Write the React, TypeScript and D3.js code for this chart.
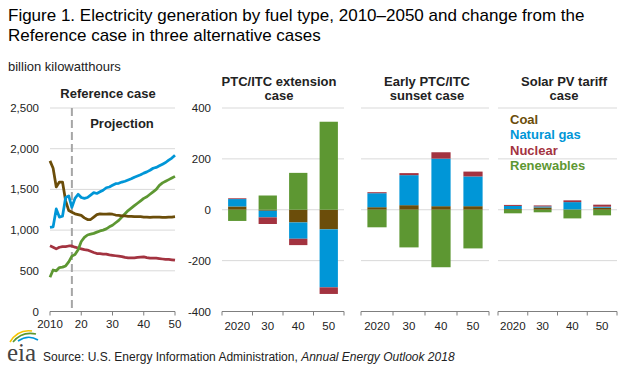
import React from "react";
import * as d3 from "d3";

const years = d3.range(2010, 2051);
const coalRef = [1850, 1760, 1530, 1590, 1590, 1360, 1240, 1220, 1200, 1190, 1180, 1150, 1130, 1130, 1160, 1190, 1200, 1195, 1195, 1200, 1195, 1185, 1180, 1175, 1175, 1170, 1170, 1165, 1165, 1165, 1160, 1160, 1155, 1160, 1160, 1160, 1155, 1155, 1160, 1160, 1165];
const gasRef = [1034, 1040, 1260, 1160, 1170, 1400, 1420, 1280, 1390, 1440, 1400, 1390, 1400, 1430, 1460, 1450, 1470, 1490, 1520, 1530, 1550, 1570, 1575, 1590, 1600, 1615, 1630, 1650, 1665, 1680, 1700, 1715, 1735, 1760, 1770, 1790, 1810, 1830, 1860, 1885, 1920];
const nuclearRef = [807, 790, 769, 789, 797, 797, 805, 805, 790, 780, 770, 760, 755, 740, 725, 712, 710, 705, 705, 695, 690, 685, 680, 675, 665, 660, 660, 660, 665, 668, 670, 662, 655, 655, 655, 650, 645, 640, 640, 635, 630];
const renewRef = [420, 510, 500, 540, 545, 560, 610, 680, 700, 760, 860, 910, 940, 950, 960, 975, 990, 1000, 1015, 1040, 1060, 1090, 1120, 1160, 1200, 1240, 1270, 1300, 1330, 1360, 1390, 1410, 1440, 1470, 1500, 1550, 1580, 1600, 1620, 1640, 1660];

const barYears = ["2020", "30", "40", "50"];
const extCoal = [13, -4, -50, -77];
const extGas = [29, -26, -64, -228];
const extNuclear = [3, -26, -25, -26];
const extRenew = [-44, 56, 145, 346];
const sunCoal = [10, 18, 14, 14];
const sunGas = [55, 118, 187, 117];
const sunNuclear = [4, 8, 25, 19];
const sunRenew = [-69, -148, -226, -152];
const solCoal = [3, 9, 1, 8];
const solGas = [12, 4, 29, 4];
const solNuclear = [4, 4, 7, 8];
const solRenew = [-14, -10, -34, -22];

const refTicks = [0, 500, 1000, 1500, 2000, 2500];
const refXTicks = [2010, 2020, 2030, 2040, 2050];
const refXLabels = ["2010", "20", "30", "40", "50"];
const barTicks = [-400, -200, 0, 200, 400];

const keys = ["coal", "gas", "nuclear", "renew"];
const labels = ["Coal", "Natural gas", "Nuclear", "Renewables"];
const colors: Record<string, string> = {
  coal: "#6b4d0a",
  gas: "#0096d7",
  nuclear: "#a33340",
  renew: "#5d9732",
};

const FONT = "'Liberation Sans', Arial, Helvetica, sans-serif";
const TXT = "#222";
const GRID = "#d9d9d9";
const AXIS = "#7f7f7f";

const TOP = 108;
const BOTTOM = 311.5;

function BarPanel({ x0, x1, coal, gas, nuclear, renew, title, titleX, showY }: any) {
  const xs = d3.scaleBand<string>().domain(barYears).range([x0, x1]).paddingInner(0.4).paddingOuter(0.2);
  const ys = d3.scaleLinear().domain([-400, 400]).range([BOTTOM, TOP]);
  const rows = barYears.map((_, i) => ({ coal: coal[i], gas: gas[i], nuclear: nuclear[i], renew: renew[i] }));
  const series = d3.stack<any>().keys(keys).offset(d3.stackOffsetDiverging)(rows);
  const step = (x1 - x0) / barYears.length;
  return (
    <g>
      {title.map((t: string, i: number) => (
        <text key={i} x={titleX} y={86 + i * 14} textAnchor="middle" fontWeight="bold" fontSize={13} fill={TXT}>{t}</text>
      ))}
      {barTicks.filter((t) => t !== -400).map((t) => (
        <line key={t} x1={x0} x2={x1} y1={ys(t)} y2={ys(t)} stroke={GRID} strokeWidth={1} />
      ))}
      {showY && barTicks.map((t) => (
        <text key={t} x={x0 - 11} y={ys(t) + 4} textAnchor="end" fontSize={11.5} fill={TXT}>{t}</text>
      ))}
      {series.map((s: any) => (
        <g key={s.key} fill={colors[s.key]}>
          {s.map((d: any, i: number) => (
            <rect key={i} x={xs(barYears[i])} width={xs.bandwidth()} y={ys(Math.max(d[0], d[1]))} height={Math.abs(ys(d[0]) - ys(d[1]))} />
          ))}
        </g>
      ))}
      <line x1={x0} x2={x1} y1={BOTTOM} y2={BOTTOM} stroke={AXIS} strokeWidth={1} />
      {d3.range(barYears.length + 1).map((i) => (
        <line key={i} x1={x0 + i * step} x2={x0 + i * step} y1={BOTTOM} y2={BOTTOM + 4} stroke={AXIS} strokeWidth={1} />
      ))}
      {barYears.map((b) => (
        <text key={b} x={(xs(b) as number) + xs.bandwidth() / 2} y={330} textAnchor="middle" fontSize={11.5} fill={TXT}>{b}</text>
      ))}
    </g>
  );
}

export default function App() {
  const x = d3.scaleLinear().domain([2010, 2050]).range([50, 175]);
  const y = d3.scaleLinear().domain([0, 2500]).range([BOTTOM, TOP]);
  const line = d3.line<number>().x((_, i) => x(years[i])).y((d) => y(d));
  const refSeries = [
    { key: "nuclear", v: nuclearRef },
    { key: "renew", v: renewRef },
    { key: "coal", v: coalRef },
    { key: "gas", v: gasRef },
  ];
  return (
    <svg width={630} height={378} style={{ position: "absolute", left: 0, top: 0, background: "#fff" }} fontFamily={FONT}>
      <rect width={630} height={378} fill="#fff" />
      <text x={8} y={21} fontSize={17} fill="#000">Figure 1. Electricity generation by fuel type, 2010–2050 and change from the</text>
      <text x={8} y={41} fontSize={17} fill="#000">Reference case in three alternative cases</text>
      <text x={8} y={71} fontSize={13} fill={TXT}>billion kilowatthours</text>

      {/* Reference panel */}
      <text x={108} y={98} textAnchor="middle" fontWeight="bold" fontSize={13} fill={TXT}>Reference case</text>
      {refTicks.filter((t) => t > 0).map((t) => (
        <line key={t} x1={50} x2={175} y1={y(t)} y2={y(t)} stroke={GRID} strokeWidth={1} />
      ))}
      {refTicks.map((t) => (
        <text key={t} x={39} y={y(t) + 4} textAnchor="end" fontSize={11.5} fill={TXT}>{d3.format(",")(t)}</text>
      ))}
      <line x1={x(2017)} x2={x(2017)} y1={TOP} y2={BOTTOM} stroke="#a6a6a6" strokeWidth={2} strokeDasharray="8,4" />
      <text x={122} y={128} textAnchor="middle" fontWeight="bold" fontSize={13} fill={TXT}>Projection</text>
      {refSeries.map((s) => (
        <path key={s.key} d={line(s.v) || ""} fill="none" stroke={colors[s.key]} strokeWidth={2.75} strokeLinejoin="round" />
      ))}
      <line x1={50} x2={175} y1={BOTTOM} y2={BOTTOM} stroke={AXIS} strokeWidth={1} />
      {refXTicks.map((t) => (
        <line key={t} x1={x(t)} x2={x(t)} y1={BOTTOM} y2={BOTTOM + 4} stroke={AXIS} strokeWidth={1} />
      ))}
      {refXTicks.map((t, i) => (
        <text key={t} x={x(t)} y={328} textAnchor="middle" fontSize={11.5} fill={TXT}>{refXLabels[i]}</text>
      ))}

      <BarPanel x0={222} x1={344} coal={extCoal} gas={extGas} nuclear={extNuclear} renew={extRenew}
        title={["PTC/ITC extension", "case"]} titleX={279} showY={true} />
      <BarPanel x0={361} x1={489} coal={sunCoal} gas={sunGas} nuclear={sunNuclear} renew={sunRenew}
        title={["Early PTC/ITC", "sunset case"]} titleX={427} showY={false} />
      <BarPanel x0={498} x1={617} coal={solCoal} gas={solGas} nuclear={solNuclear} renew={solRenew}
        title={["Solar PV tariff", "case"]} titleX={564} showY={false} />

      {/* Legend */}
      {keys.map((k, i) => (
        <text key={k} x={510} y={124 + i * 15.3} fontWeight="bold" fontSize={13} fill={colors[k]}>{labels[i]}</text>
      ))}

      {/* Footer */}
      <g>
        <path d="M10,342 Q18,329 32,331" fill="none" stroke="#f5c400" strokeWidth={1.6} />
        <path d="M13,342 Q22,331 36,334" fill="none" stroke="#5d9732" strokeWidth={1.6} />
        <path d="M18,341 Q28,334 38,340" fill="none" stroke="#0096d7" strokeWidth={1.6} />
        <text x={7} y={361} fontFamily="'Liberation Serif', 'DejaVu Serif', serif" fontSize={25} fill="#444">eia</text>
      </g>
      <text x={43} y={361} fontSize={12} fill={TXT}>
        Source: U.S. Energy Information Administration, <tspan fontStyle="italic">Annual Energy Outlook 2018</tspan>
      </text>
    </svg>
  );
}
